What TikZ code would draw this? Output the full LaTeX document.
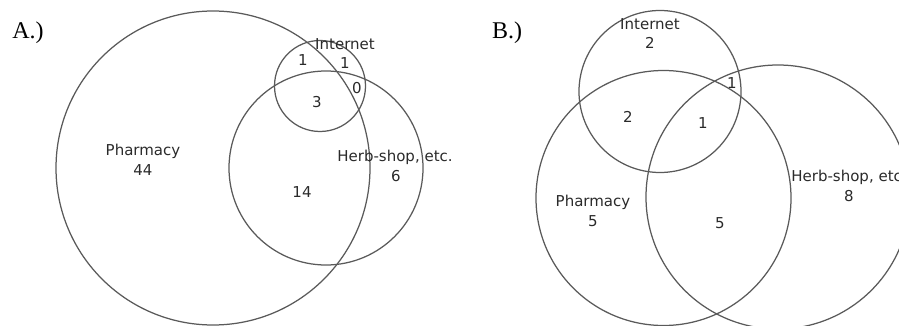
\documentclass[tikz,border=0pt]{standalone}
\usepackage{fontspec}
\setmainfont{DejaVu Sans}
\newfontfamily\tagfont{Liberation Serif}
\definecolor{vennline}{HTML}{5A5A5A}
\definecolor{venntext}{HTML}{2A2A2A}

\begin{document}
\begin{tikzpicture}[
  x=1pt,
  y=-1pt,
  every node/.style={font=\fontsize{15}{18}\selectfont, venntext, inner sep=0pt},
  set/.style={vennline, line width=1.25pt},
  paneltag/.style={font=\tagfont\fontsize{24}{28}\selectfont, black},
  count/.style={anchor=center}
]
  % ---- frame of the whole figure, pixel units ----
  \useasboundingbox (0,0) rectangle (899,326);
  \clip (0,0) rectangle (899,326);

  % ---- panel A: nested sets ----
  \node[paneltag] (tagA) at (28,33) {A.)};
  \draw[set] (213,168) circle[radius=157pt];   % pharmacy
  \draw[set] (320,86) circle[radius=45.5pt];   % internet
  \draw[set] (326,168) circle[radius=97pt];    % herb-shop

  \node (phA) at (143,151) {Pharmacy};
  \node[count] (phAn) at (143,170) {44};
  \node (inA) at (345,44) {Internet};
  \node[count] (inAa) at (303,60) {1};
  \node[count] (inAb) at (345,63) {1};
  \node[count] (inAc) at (357,88) {0};
  \node[count] (inAd) at (317,102) {3};
  \node[count] (hbAa) at (302,192) {14};
  \node (hbA) at (395,157) {Herb-shop, etc.};
  \node[count] (hbAn) at (396,176) {6};

  % ---- panel B: three overlapping sets ----
  \node[paneltag] (tagB) at (507,33) {B.)};
  \draw[set] (660,91.5) circle[radius=81pt];   % internet
  \draw[set] (663.5,198) circle[radius=127.5pt]; % pharmacy
  \draw[set] (778,197) circle[radius=132pt];   % herb-shop

  \node (inB) at (650,24) {Internet};
  \node[count] (inBn) at (650,43) {2};
  \node[count] (inBa) at (732,83) {1};
  \node[count] (inBb) at (628,117) {2};
  \node[count] (inBc) at (703,123) {1};
  \node (phB) at (593,202) {Pharmacy};
  \node[count] (phBn) at (593,221) {5};
  \node[count] (hbBa) at (720,223) {5};
  % label runs past the right edge, as in the source figure
  \node (hbB) at (849,177) {Herb-shop, etc.};
  \node[count] (hbBn) at (849,196) {8};
\end{tikzpicture}
\end{document}
